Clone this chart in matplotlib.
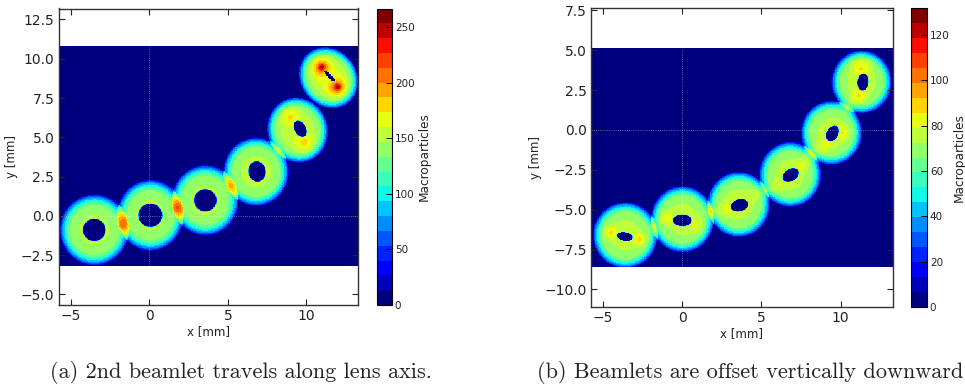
import numpy as np
import matplotlib
matplotlib.use('Agg')
import matplotlib.pyplot as plt

#Panel a - beamlet rings (mm)
a_ring_x = [-3.57, 0.0, 3.50, 6.74, 9.39, 11.36]
a_ring_y = [-0.93, 0.0, 0.95, 2.76, 5.41, 8.73]
a_ring_major = [2.26, 2.26, 2.24, 2.18, 2.10, 2.06]
a_ring_minor = [2.22, 2.14, 2.14, 2.10, 1.94, 1.80]
a_ring_tilt = [90, 90, 90, 90, -70, -50]
a_hole_x = [-3.57, 0.0, 3.50, 6.80, 9.55, 11.43]
a_hole_y = [-0.93, 0.0, 0.95, 2.78, 5.49, 8.83]
a_hole_major = [0.72, 0.76, 0.72, 0.64, 0.55, 0.47]
a_hole_minor = [0.70, 0.74, 0.70, 0.56, 0.36, 0.12]
a_hole_tilt = [0, 0, 0, 100, -60, -47]
a_level = [148, 148, 148, 150, 155, 158]
a_spot_x = [10.90, 11.90, 8.85, 9.85, 10.95, 11.95, -1.76, 1.76, 5.15]
a_spot_y = [9.40, 8.13, 6.37, 4.52, 9.40, 8.13, -0.57, 0.49, 1.87]
a_spot_amp = [55, 55, 25, 25, 45, 45, 18, 22, 10]
a_spot_size = [0.38, 0.38, 0.40, 0.40, 0.14, 0.14, 0.30, 0.32, 0.30]
a_xlim = [-5.8, 13.3]
a_ylim = [-5.67, 13.2]
a_data_y = [-3.2, 10.75]
a_vmax = 267
a_cticks = [0, 50, 100, 150, 200, 250]
a_xticks = [-5, 0, 5, 10]
a_yticks = [-5.0, -2.5, 0.0, 2.5, 5.0, 7.5, 10.0, 12.5]

#Panel b
b_ring_x = [-3.60, 0.0, 3.55, 6.80, 9.40, 11.30]
b_ring_y = [-6.63, -5.63, -4.70, -2.82, -0.21, 2.97]
b_ring_major = [2.08, 2.09, 2.06, 2.04, 2.02, 1.98]
b_ring_minor = [2.06, 2.01, 1.99, 1.96, 1.94, 1.91]
b_ring_tilt = [90, 90, 90, 90, 90, 90]
b_hole_x = [-3.63, 0.0, 3.60, 6.83, 9.47, 11.39]
b_hole_y = [-6.71, -5.70, -4.76, -2.86, -0.25, 2.97]
b_hole_major = [0.50, 0.58, 0.56, 0.56, 0.52, 0.54]
b_hole_minor = [0.27, 0.37, 0.38, 0.38, 0.36, 0.34]
b_hole_tilt = [-10, 0, 15, 30, 60, 85]
b_level = [74, 74, 74, 74, 74, 74]
b_spot_x = [-4.55, -2.65, -1.05, 0.95, 2.8, 4.5, 6.0, 7.55, 8.95, 10.05, 11.25, 11.10, -1.8, 1.83, 5.23, 8.17, 10.38]
b_spot_y = [-6.45, -6.90, -5.55, -6.05, -5.00, -4.10, -3.55, -2.20, -1.05, -0.20, 4.00, 2.05, -6.17, -5.16, -3.82, -1.57, 1.36]
b_spot_amp = [14, 16, 12, 8, 8, 8, 8, 10, 10, 12, 14, 14, 8, 14, 14, 14, 14]
b_spot_size = [0.30, 0.28, 0.30, 0.40, 0.35, 0.30, 0.30, 0.30, 0.35, 0.35, 0.45, 0.35, 0.25, 0.30, 0.30, 0.30, 0.30]
b_xlim = [-5.74, 13.3]
b_ylim = [-11.1, 7.65]
b_data_y = [-8.6, 5.1]
b_vmax = 132
b_cticks = [0, 20, 40, 60, 80, 100, 120]
b_xticks = [-5, 0, 5, 10]
b_yticks = [-10.0, -7.5, -5.0, -2.5, 0.0, 2.5, 5.0, 7.5]

W, H = 965, 388


def px_axes(fig, left, top, right, bottom):
    return fig.add_axes([left / W, 1 - bottom / H, (right - left) / W, (bottom - top) / H])


def ell(X, Y, cx, cy, major, minor, tilt):
    t = np.radians(tilt)
    u = (X - cx) * np.cos(t) + (Y - cy) * np.sin(t)
    v = -(X - cx) * np.sin(t) + (Y - cy) * np.cos(t)
    return np.sqrt((u / major) ** 2 + (v / minor) ** 2)


def density(xlim, data_y, rx, ry, rmaj, rmin, rt, hx, hy, hmaj, hmin, ht, level, sx, sy, sa, ss):
    xs = np.arange(xlim[0], xlim[1], 0.04)
    ys = np.arange(data_y[0], data_y[1], 0.04)
    X, Y = np.meshgrid(xs, ys)
    Z = np.zeros_like(X)
    for i in range(len(rx)):
        rho = ell(X, Y, rx[i], ry[i], rmaj[i], rmin[i], rt[i])
        outer = np.clip((1 - rho) / 0.28, 0, 1) ** 0.45
        hole = ell(X, Y, hx[i], hy[i], hmaj[i], hmin[i], ht[i])
        inner = np.clip((hole - 1) / 0.12 + 0.5, 0, 1)
        shade = 1 - 0.15 * np.clip((rho - 0.4) / 0.45, 0, 1)
        Z += level[i] * outer * inner * shade
    mask = Z > 1
    for i in range(len(sx)):
        Z += mask * sa[i] * np.exp(-((X - sx[i]) ** 2 + (Y - sy[i]) ** 2) / (2 * ss[i] ** 2))
    return Z


def panel(fig, box, cbox, xlim, ylim, data_y, Z, vmax, cticks, xticks, yticks, caption, cap_x):
    ax = px_axes(fig, *box)
    cmap = plt.get_cmap('jet', 20)
    im = ax.imshow(Z, origin='lower', extent=[xlim[0], xlim[1], data_y[0], data_y[1]],
                   aspect='auto', cmap=cmap, vmin=0, vmax=vmax, interpolation='nearest')
    ax.set_xlim(xlim)
    ax.set_ylim(ylim)
    #faint axis lines over the image
    ax.plot([0, 0], data_y, color='white', lw=0.6, ls=':', alpha=0.5)
    ax.plot(xlim, [0, 0], color='white', lw=0.6, ls=':', alpha=0.5)
    ax.set_xticks(xticks)
    ax.set_yticks(yticks)
    ax.set_yticklabels(['%.1f' % v if v >= 0 else '\u2212%.1f' % -v for v in yticks])
    ax.set_xticklabels([str(v) if v >= 0 else '\u2212%d' % -v for v in xticks])
    ax.tick_params(direction='in', top=True, right=True, length=4.5, width=0.8,
                   labelsize=10, color='#222222', labelcolor='#222222', pad=3)
    for s in ax.spines.values():
        s.set_linewidth(1.0)
        s.set_color('#333333')
    ax.set_xlabel('x [mm]', fontsize=8.5, labelpad=1, color='#222222')
    ax.set_ylabel('y [mm]', fontsize=8.5, labelpad=2, color='#222222')
    cax = px_axes(fig, *cbox)
    cb = fig.colorbar(im, cax=cax)
    cb.set_ticks(cticks)
    cb.ax.tick_params(direction='in', length=4, width=0.7, labelsize=7.5, pad=2, color='black', labelcolor='#222222')
    cb.outline.set_linewidth(0.8)
    cb.set_label('Macroparticles', fontsize=8.7, labelpad=2, color='#222222')
    fig.text(cap_x / W, 1 - 373 / H, caption, family='cmr10', fontsize=16, va='center', color='#222222')


fig = plt.figure(figsize=(W / 100, H / 100), dpi=100)

Za = density(a_xlim, a_data_y, a_ring_x, a_ring_y, a_ring_major, a_ring_minor, a_ring_tilt,
             a_hole_x, a_hole_y, a_hole_major, a_hole_minor, a_hole_tilt, a_level,
             a_spot_x, a_spot_y, a_spot_amp, a_spot_size)
panel(fig, (58.5, 8.5, 358, 305), (377, 8.5, 392, 305), a_xlim, a_ylim, a_data_y, Za, a_vmax,
      a_cticks, a_xticks, a_yticks, '(a) 2nd beamlet travels along lens axis.', 50)

Zb = density(b_xlim, b_data_y, b_ring_x, b_ring_y, b_ring_major, b_ring_minor, b_ring_tilt,
             b_hole_x, b_hole_y, b_hole_major, b_hole_minor, b_hole_tilt, b_level,
             b_spot_x, b_spot_y, b_spot_amp, b_spot_size)
panel(fig, (591, 8, 893, 307), (911, 8, 927, 307), b_xlim, b_ylim, b_data_y, Zb, b_vmax,
      b_cticks, b_xticks, b_yticks, '(b) Beamlets are offset vertically downward', 537)

fig.savefig('out.png', dpi=100)
